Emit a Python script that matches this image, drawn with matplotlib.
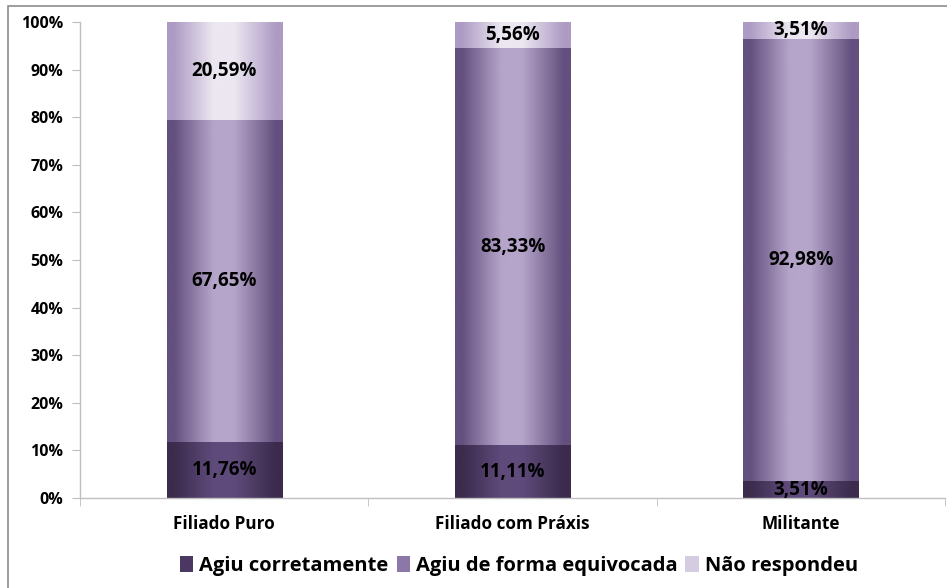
import numpy as np
import matplotlib
matplotlib.use("Agg")
import matplotlib.pyplot as plt
from matplotlib.colors import LinearSegmentedColormap
from matplotlib.patches import Rectangle, Patch

plt.rcParams["font.family"] = ["Open Sans", "DejaVu Sans"]
plt.rcParams["font.weight"] = "bold"

categories = ["Filiado Puro", "Filiado com Práxis", "Militante"]
series_names = ["Agiu corretamente", "Agiu de forma equivocada", "Não respondeu"]
correto = [11.76, 11.11, 3.51]
equivocada = [67.65, 83.33, 92.98]
nao_resp = [20.59, 5.56, 3.51]
values = [correto, equivocada, nao_resp]

# edge / center colours of the horizontal gradient (Excel style)
grad = [("#3b2b4d", "#5f4b7b"),
        ("#64507e", "#b5a5ca"),
        ("#ad9bc4", "#ece7f1")]
solid = ["#4a3863", "#8c78a8", "#d6cce2"]

fig = plt.figure(figsize=(9.47, 5.88), dpi=100)
ax = fig.add_axes([0.0845, 0.153, 0.9135, 0.8096])

x = np.arange(len(categories))
bottom = np.zeros(len(categories))
for vals, (edge, center), name in zip(values, grad, series_names):
    bars = ax.bar(x, vals, 0.4, bottom=bottom, color="none", lw=0, label=name)
    cmap = LinearSegmentedColormap.from_list(
        name, [(0, edge), (0.06, edge), (0.4, center), (0.58, center),
               (0.94, edge), (1, edge)])
    g = np.linspace(0, 1, 256).reshape(1, -1)
    for b, v in zip(bars, vals):
        x0, y0 = b.get_x(), b.get_y()
        w, h = b.get_width(), b.get_height()
        ax.imshow(g, cmap=cmap, aspect="auto", extent=(x0, x0 + w, y0, y0 + h),
                  interpolation="bilinear", zorder=2)
        ax.text(x0 + w / 2, y0 + h / 2, f"{v:.2f}%".replace(".", ","),
                ha="center", va="center", fontsize=13.5, fontweight="bold",
                color="black", zorder=4)
    bottom += np.array(vals)

ax.set_xlim(-0.5, 2.5)
ax.set_ylim(0, 100)
ax.set_yticks(np.arange(0, 101, 10))
ax.set_yticklabels([f"{t}%" for t in range(0, 101, 10)])
ax.set_xticks(x)
ax.set_xticklabels(categories)
ax.set_xticks([-0.5, 0.5, 1.5, 2.5], minor=True)
ax.tick_params(axis="x", which="major", length=0, pad=12, labelsize=12.3)
ax.tick_params(axis="x", which="minor", length=6, color="#bfbfbf", direction="out")
ax.tick_params(axis="y", length=6, color="#bfbfbf", labelsize=11.5, pad=6)
for s in ["top", "right"]:
    ax.spines[s].set_visible(False)
for s in ["left", "bottom"]:
    ax.spines[s].set_color("#bfbfbf")
    ax.spines[s].set_linewidth(1.0)
    ax.spines[s].set_zorder(3)

handles = [Patch(facecolor=c, edgecolor="none") for c in solid]
fig.legend(handles, series_names, loc="center", bbox_to_anchor=(0.548, 0.038),
           ncol=3, frameon=False, fontsize=14.5, handlelength=0.65,
           handleheight=0.9, handletextpad=0.3, columnspacing=0.4)

# outer chart frame (cropped on right and bottom)
fig.patches.append(Rectangle((8 / 947, -0.1), 1.2, 1 - 6 / 588 + 0.1,
                             transform=fig.transFigure, fill=False,
                             ec="#8c8c8c", lw=1.2))

fig.savefig("out.png", dpi=100)
